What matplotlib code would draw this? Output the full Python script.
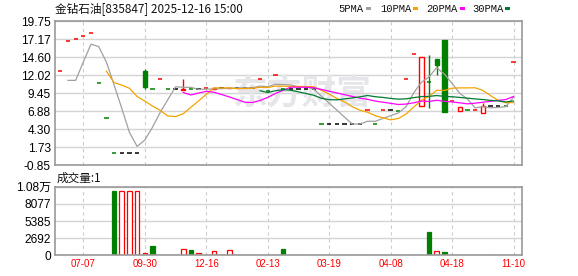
import numpy as np
import pandas as pd
import matplotlib
matplotlib.use("Agg")
import matplotlib.pyplot as plt
from matplotlib.patches import Rectangle

plt.rcParams['font.family'] = ['Noto Sans CJK SC', 'DejaVu Sans']

# 行情数据
prior_close = [17.17, 4.50, 5.29]
opens = [12.64, 16.90, 17.17, 17.65, 18.03, 10.88, 5.87, 0.85, 0.85, 0.85,
         0.85, 12.64, 10.02, 11.45, 10.02, 10.02, 9.98, 10.00, 10.00, 10.16,
         10.10, 10.20, 10.16, 10.25, 10.25, 10.25, 11.45, 9.77, 12.02, 10.02,
         10.02, 10.02, 10.02, 10.02, 5.05, 5.05, 5.05, 5.05, 5.05, 5.05,
         7.05, 5.05, 7.05, 7.05, 6.95, 11.45, 15.03, 7.58, 11.02, 14.35,
         17.07, 8.40, 6.88, 7.05, 7.08, 6.70, 7.67, 7.67, 7.60, 13.88]
closes = [12.64, 16.90, 17.17, 17.65, 18.03, 10.88, 5.87, 0.85, 0.85, 0.85,
          0.85, 10.39, 10.02, 11.45, 10.02, 10.02, 10.02, 10.00, 10.00, 10.16,
          10.20, 10.20, 10.25, 10.25, 10.25, 10.25, 11.45, 9.77, 12.02, 10.02,
          10.02, 10.02, 10.02, 10.02, 5.05, 5.05, 5.05, 5.05, 5.05, 5.05,
          7.05, 5.05, 7.05, 7.05, 6.95, 11.45, 15.03, 14.60, 11.02, 13.50,
          6.81, 8.40, 7.45, 7.05, 7.08, 7.67, 7.67, 7.67, 7.60, 13.88]
highs = [12.64, 16.90, 17.17, 17.65, 18.03, 10.88, 5.87, 0.85, 0.85, 0.85,
         0.85, 12.87, 10.02, 11.45, 10.02, 10.02, 11.55, 10.00, 10.00, 10.16,
         10.20, 10.20, 10.25, 10.25, 10.25, 10.25, 11.45, 9.77, 12.02, 10.02,
         10.02, 10.02, 10.02, 10.02, 5.05, 5.05, 5.05, 5.05, 5.05, 5.05,
         7.05, 5.05, 7.05, 7.05, 6.95, 11.45, 15.03, 14.60, 14.93, 14.35,
         17.07, 8.40, 7.45, 7.05, 7.08, 8.10, 7.67, 7.67, 7.60, 13.88]
lows = [12.64, 16.90, 17.17, 17.65, 18.03, 10.88, 5.87, 0.85, 0.85, 0.85,
        0.85, 10.06, 10.02, 11.45, 10.02, 10.02, 9.98, 10.00, 10.00, 10.16,
        10.10, 10.20, 10.16, 10.25, 10.25, 10.25, 11.45, 9.77, 12.02, 10.02,
        10.02, 10.02, 10.02, 10.02, 5.05, 5.05, 5.05, 5.05, 5.05, 5.05,
        7.05, 5.05, 7.05, 7.05, 6.95, 11.45, 15.03, 7.58, 7.39, 12.07,
        6.81, 8.40, 6.88, 7.05, 7.08, 6.70, 7.67, 7.67, 7.60, 13.88]
volumes = [60, 60, 60, 60, 60, 60, 60, 10100, 10100, 10100,
           10100, 370, 1410, 60, 60, 60, 940, 830, 370, 60,
           730, 60, 890, 60, 60, 60, 60, 60, 60, 940,
           60, 60, 60, 60, 60, 60, 60, 60, 60, 60,
           60, 60, 60, 60, 60, 60, 60, 60, 3610, 620,
           470, 60, 60, 60, 60, 60, 60, 60, 60, 60]
tick_pos = [3, 11, 19, 27, 35, 43, 51, 59]
tick_labels = ['07-07', '09-30', '12-16', '02-13', '03-19', '04-08', '04-18', '11-10']
price_ticks = [19.75, 17.17, 14.60, 12.02, 9.45, 6.88, 4.30, 1.73, -0.85]
vol_ticks = [0, 2692, 5385, 8077, 10770]
vol_tick_labels = ['0', '2692', '5385', '8077', '1.08万']

RED = '#ff0000'
GREEN = '#008000'
GRID = '#d4d4d4'
FRAME = '#999999'
ma_colors = {5: '#a0a0a0', 10: '#f5a300', 20: '#ff00ff', 30: '#007a33'}

W, H = 578, 276
fig = plt.figure(figsize=(W / 100, H / 100), dpi=100)
ax = fig.add_axes([55 / W, 1 - 165.3 / H, 467 / W, 144 / H])
axv = fig.add_axes([55 / W, 1 - 255.3 / H, 467 / W, 68.6 / H])

n = len(closes)
x = np.arange(n)
o = np.array(opens)
c = np.array(closes)
hi = np.array(highs)
lo = np.array(lows)
prev = np.concatenate([[prior_close[-1]], c[:-1]])

# 蜡烛颜色
cols = []
for i in range(n):
    if c[i] > o[i]:
        cols.append(RED)
    elif c[i] < o[i]:
        cols.append(GREEN)
    elif c[i] > prev[i]:
        cols.append(RED)
    elif c[i] < prev[i]:
        cols.append(GREEN)
    else:
        cols.append('black')

bw = 0.56
for i in range(n):
    if hi[i] > lo[i]:
        ax.vlines(x[i], lo[i], hi[i], color=cols[i], lw=1.0, zorder=2)
    if o[i] == c[i]:
        ax.hlines(c[i], x[i] - bw / 2, x[i] + bw / 2, color=cols[i], lw=1.1, zorder=2)
    else:
        face = 'white' if c[i] > o[i] else cols[i]
        ax.add_patch(Rectangle((x[i] - bw / 2, min(o[i], c[i])), bw, abs(c[i] - o[i]),
                               facecolor=face, edgecolor=cols[i], lw=1.0, zorder=2))

# 均线
full = pd.Series(prior_close + closes)
for p, col in ma_colors.items():
    ma = full.rolling(p).mean().values[len(prior_close):]
    ax.plot(x, ma, color=col, lw=0.9, zorder=3)

# 水印
ax.text(0.53, 0.5, '东方财富', transform=ax.transAxes, fontsize=25, color='#e6e6ea',
        fontweight='bold', style='italic', ha='center', va='center', zorder=1)

ax.set_xlim(-0.69, 60.1)
ax.set_ylim(-0.85, 19.75)
ax.set_yticks(price_ticks)
ax.set_yticklabels(['%.2f' % v for v in price_ticks], family='Liberation Sans', fontsize=8.6)
ax.set_xticks(tick_pos)
ax.set_xticklabels([])

# 成交量
vcols = [RED if c[i] >= prev[i] else GREEN for i in range(n)]
vface = ['white' if vc == RED else vc for vc in vcols]
axv.bar(x, volumes, width=0.6, facecolor=vface, edgecolor=vcols, lw=0.9, zorder=2)
axv.set_xlim(-0.69, 60.1)
axv.set_ylim(0, 10770)
axv.set_yticks(vol_ticks)
axv.set_yticklabels(vol_tick_labels, fontsize=8.6)
axv.set_xticks(tick_pos)
axv.set_xticklabels(tick_labels, family='Liberation Sans', fontsize=7, color=RED)

for a in (ax, axv):
    a.tick_params(length=0, pad=3)
    a.grid(axis='y', color=GRID, lw=1.0, zorder=0)
    a.grid(axis='x', color='#cccccc', lw=0.8, linestyle=(0, (3, 3)), zorder=0)
    a.set_axisbelow(True)
    for s in a.spines.values():
        s.set_color(FRAME)
        s.set_linewidth(1.2)
for lab in axv.get_yticklabels():
    lab.set_family(['Liberation Sans', 'Noto Sans CJK SC'])

# 标题与图例
fig.text(55 / W, 1 - 8.5 / H, '金钻石油[835847] 2025-12-16 15:00', fontsize=8.4,
         ha='left', va='center', color='#111111')
legend = [('5PMA', 338, 366, ma_colors[5]), ('10PMA', 380, 413, ma_colors[10]),
          ('20PMA', 426, 460, ma_colors[20]), ('30PMA', 472, 505, ma_colors[30])]
for name, tx, mx, col in legend:
    fig.text(tx / W, 1 - 8.5 / H, name, fontsize=7.6, family='Liberation Mono',
             ha='left', va='center', color='#111111')
    fig.patches.append(Rectangle((mx / W, 1 - 10 / H), 5 / W, 3 / H, facecolor=col,
                                 edgecolor='none', transform=fig.transFigure, figure=fig))
fig.text(57 / W, 1 - 178 / H, '成交量:1', fontsize=8.4, ha='left', va='center', color='#111111')

fig.savefig('out.png', dpi=100, facecolor='white')
